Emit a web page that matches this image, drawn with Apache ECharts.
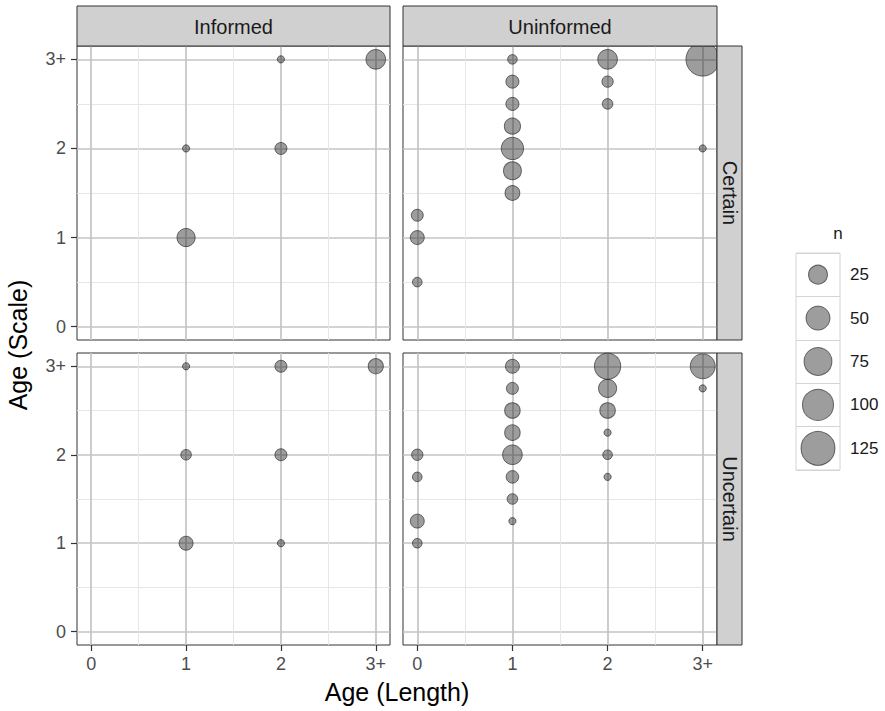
<!DOCTYPE html>
<html><head><meta charset="utf-8">
<script src="https://cdn.jsdelivr.net/npm/echarts@6/dist/echarts.min.js"></script>
<style>html,body{margin:0;padding:0;background:#fff}#c{width:885px;height:711px}</style>
</head><body><div id="c"></div>
<script>
// Axis ticks
const tickValues = [0, 1, 2, 3];
const tickLabels = ['0', '1', '2', '3+'];
const minorValues = [0.5, 1.5, 2.5];
// Facets
const columns = ['Informed', 'Uninformed'];
const rows = ['Certain', 'Uncertain'];
// Points: [Age (Length), Age (Scale), n]
const informedCertain = [[2,3,1],[3,3,28],[1,2,1],[2,2,5],[1,1,22]];
const uninformedCertain = [
  [1,3,2],[1,2.75,7],[1,2.5,7],[1,2.25,15],[1,2,41],[1,1.75,21],[1,1.5,11],
  [2,3,28],[2,2.75,4],[2,2.5,3],
  [3,3,121],[3,2,1],
  [0,1.25,5],[0,1,9],[0,0.5,2]
];
const informedUncertain = [[1,3,1],[2,3,5],[3,3,12],[1,2,3],[2,2,5],[1,1,9],[2,1,1]];
const uninformedUncertain = [
  [0,2,4],[0,1.75,2],[0,1.25,9],[0,1,2],
  [1,3,9],[1,2.75,5],[1,2.5,13],[1,2.25,13],[1,2,28],[1,1.75,6],[1,1.5,3],[1,1.25,1],
  [2,3,64],[2,2.75,22],[2,2.5,13],[2,2.25,1],[2,2,2],[2,1.75,1],
  [3,3,56],[3,2.75,1]
];
// Size legend
const legendValues = [25, 50, 75, 100, 125];

const FONT = "'Liberation Sans', Arial, sans-serif";
function sizeOf(n) { return 8.2 + 2.4 * Math.sqrt(Math.max(n - 1, 0)) - 1; }

const panels = [
  {data: informedCertain, left: 77, top: 46, width: 313, height: 294, col: 0, row: 0},
  {data: uninformedCertain, left: 403, top: 46, width: 314, height: 294, col: 1, row: 0},
  {data: informedUncertain, left: 77, top: 353, width: 313, height: 292, col: 0, row: 1},
  {data: uninformedUncertain, left: 403, top: 353, width: 314, height: 292, col: 1, row: 1}
];

const pointStyle = {color: 'rgba(35,35,35,0.56)', borderColor: 'rgba(25,25,25,0.75)', borderWidth: 1};

const grid = [], xAxis = [], yAxis = [], series = [];
panels.forEach((p, i) => {
  grid.push({left: p.left, top: p.top, width: p.width, height: p.height, show: true,
    borderColor: '#333', borderWidth: 1, backgroundColor: '#fff'});
  const bottom = p.row === 1, leftSide = p.col === 0;
  const minorAxis = (pos) => ({type: 'value', gridIndex: i, min: -0.15, max: 3.15, position: pos,
    axisLine: {show: false, onZero: false}, axisTick: {show: false, customValues: minorValues},
    axisLabel: {show: false, customValues: minorValues},
    splitLine: {show: true, lineStyle: {color: '#e6e6e6', width: 1}}});
  const mainAx = (showLab, pos, margin) => ({type: 'value', gridIndex: i, min: -0.15, max: 3.15, position: pos,
    axisLine: {show: false, onZero: false},
    axisTick: {show: showLab, customValues: tickValues, length: 6, lineStyle: {color: '#333', width: 1.2}},
    axisLabel: {show: showLab, customValues: tickValues, fontSize: 18, color: '#4d4d4d', fontFamily: FONT,
      margin: margin, formatter: v => tickLabels[tickValues.indexOf(Math.round(v))]},
    splitLine: {show: true, lineStyle: {color: '#c4c4c4', width: 1.7}}});
  xAxis.push(minorAxis('bottom'));
  xAxis.push(mainAx(bottom, 'bottom', 10));
  yAxis.push(minorAxis('left'));
  yAxis.push(mainAx(leftSide, 'left', 11));
  series.push({type: 'scatter', xAxisIndex: 2 * i + 1, yAxisIndex: 2 * i + 1,
    data: p.data, symbolSize: v => sizeOf(v[2]), itemStyle: pointStyle, z: 5});
});

// legend grid (index 4)
grid.push({left: 796, top: 253, width: 44, height: 217, show: true, borderColor: '#d4d4d4', borderWidth: 1});
xAxis.push({type: 'value', gridIndex: 4, min: -1, max: 1, show: false});
yAxis.push({type: 'category', gridIndex: 4, inverse: true, position: 'right',
  data: legendValues.map(String),
  axisLine: {show: false, onZero: false}, axisTick: {show: false},
  axisLabel: {interval: 0, fontSize: 17, color: '#1a1a1a', fontFamily: FONT, margin: 10},
  splitLine: {show: true, interval: 0, lineStyle: {color: '#d4d4d4', width: 1}}});
series.push({type: 'scatter', xAxisIndex: 8, yAxisIndex: 8,
  data: legendValues.map((v, k) => [0, k, v]), symbolSize: v => sizeOf(v[2]),
  itemStyle: pointStyle});

const graphic = [];
// top strips
[{x: 77, w: 313}, {x: 403, w: 314}].forEach((s, k) => {
  graphic.push({type: 'rect', z: 100, shape: {x: s.x, y: 6, width: s.w, height: 40},
    style: {fill: '#d0d0d0', stroke: '#333', lineWidth: 1}});
  graphic.push({type: 'text', z: 101, x: s.x + s.w / 2, y: 27,
    style: {text: columns[k], fill: '#1a1a1a', font: '20px ' + FONT, textAlign: 'center', textVerticalAlign: 'middle'}});
});
// right strips
[{y: 46, h: 294}, {y: 353, h: 292}].forEach((s, k) => {
  graphic.push({type: 'rect', z: 100, shape: {x: 717, y: s.y, width: 25, height: s.h},
    style: {fill: '#d0d0d0', stroke: '#333', lineWidth: 1}});
  graphic.push({type: 'text', z: 101, x: 729.5, y: s.y + s.h / 2, rotation: -Math.PI / 2,
    style: {text: rows[k], fill: '#1a1a1a', font: '20px ' + FONT, textAlign: 'center', textVerticalAlign: 'middle'}});
});
// axis titles
graphic.push({type: 'text', z: 101, x: 397, y: 692,
  style: {text: 'Age (Length)', fill: '#000', font: '25px ' + FONT, textAlign: 'center', textVerticalAlign: 'middle'}});
graphic.push({type: 'text', z: 101, x: 18, y: 345, rotation: Math.PI / 2,
  style: {text: 'Age (Scale)', fill: '#000', font: '25px ' + FONT, textAlign: 'center', textVerticalAlign: 'middle'}});
graphic.push({type: 'text', z: 101, x: 838, y: 233,
  style: {text: 'n', fill: '#1a1a1a', font: '17px ' + FONT, textAlign: 'center', textVerticalAlign: 'middle'}});

const chart = echarts.init(document.getElementById('c'), null, {renderer: 'svg'});
chart.setOption({animation: false, backgroundColor: '#fff', grid, xAxis, yAxis, series, graphic});
</script></body></html>
